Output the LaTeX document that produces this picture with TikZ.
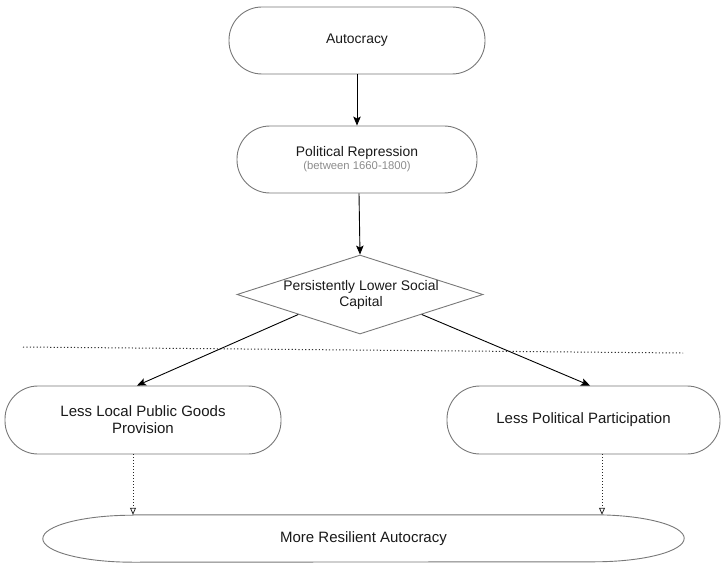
\documentclass[tikz,border=0pt]{standalone}
\usepackage{fontspec}
\setmainfont{Liberation Sans}
\usetikzlibrary{shapes.geometric,arrows.meta}
\definecolor{bordergray}{RGB}{120,120,120}
\definecolor{subgray}{RGB}{140,140,140}
\definecolor{txt}{RGB}{25,25,25}
\tikzset{
  pill/.style={draw=bordergray, line width=0.9pt, rounded corners=33pt, inner sep=0pt, align=center, text=txt},
  smallfont/.style={font=\fontsize{13.9}{16}\selectfont},
  bigfont/.style={font=\fontsize{15}{17}\selectfont},
  solidarrow/.style={draw=black, line width=0.9pt, -{Stealth[length=9pt,width=7.5pt,inset=2pt]}},
  dotarrow/.style={draw=black!85, line width=0.9pt, dash pattern=on 1pt off 2pt, -{Triangle[open,length=7pt,width=6pt,line width=0.8pt]}},
  sepline/.style={draw=black!80, line width=1pt, dash pattern=on 1.2pt off 2.2pt}
}
\begin{document}
\begin{tikzpicture}[x=1pt,y=1pt]
\useasboundingbox (0,0) rectangle (722,-564);
% nodes
\node[pill, smallfont, minimum width=256pt, minimum height=67pt] (auto) at (357,-40.5) {Autocracy};
\node[pill, smallfont, minimum width=240pt, minimum height=67pt] (pr) at (357,-159.5)
  {Political Repression\\[-3pt]{\color{subgray}\fontsize{11.3}{13}\selectfont (between 1660-1800)}};
\node[diamond, draw=bordergray, line width=0.9pt, inner sep=0pt, minimum width=246pt, minimum height=79pt] (dia) at (360,-294.5) {};
\node[smallfont, align=center, text=txt, inner sep=0pt] (diatext) at (361,-295) {Persistently Lower Social\\Capital};
\node[pill, bigfont, minimum width=276pt, minimum height=68pt] (lb) at (143,-420) {Less Local Public Goods\\Provision};
\node[pill, bigfont, minimum width=273pt, minimum height=68pt] (rb) at (583.5,-420) {Less Political Participation};
\node[bigfont, text=txt, inner sep=0pt, minimum width=641pt, minimum height=47pt] (mra) at (363.5,-538.5) {More Resilient Autocracy};
\draw[draw=bordergray, line width=0.9pt]
  ([xshift=90pt]mra.north west) -- ([xshift=-90pt]mra.north east)
  arc[start angle=90, end angle=-90, x radius=90pt, y radius=23.5pt]
  -- ([xshift=90pt]mra.south west)
  arc[start angle=270, end angle=90, x radius=90pt, y radius=23.5pt] -- cycle;
% separator
\coordinate (sepA) at (23,-347);
\coordinate (sepB) at (683,-353);
\draw[sepline] (sepA) -- (sepB);
% connectors
\draw[solidarrow] (auto.south) -- (pr.north);
\draw[solidarrow] ([xshift=2pt]pr.south) -- (dia.north);
\draw[solidarrow] (dia.south west) -- ([xshift=-6pt]lb.north);
\draw[solidarrow] (dia.south east) -- ([xshift=6.5pt]rb.north);
\coordinate (lbout) at ([xshift=-10pt]lb.south);
\coordinate (rbout) at ([xshift=18.5pt]rb.south);
\draw[dotarrow] (lbout) -- (lbout |- mra.north);
\draw[dotarrow] (rbout) -- (rbout |- mra.north);
\end{tikzpicture}
\end{document}
